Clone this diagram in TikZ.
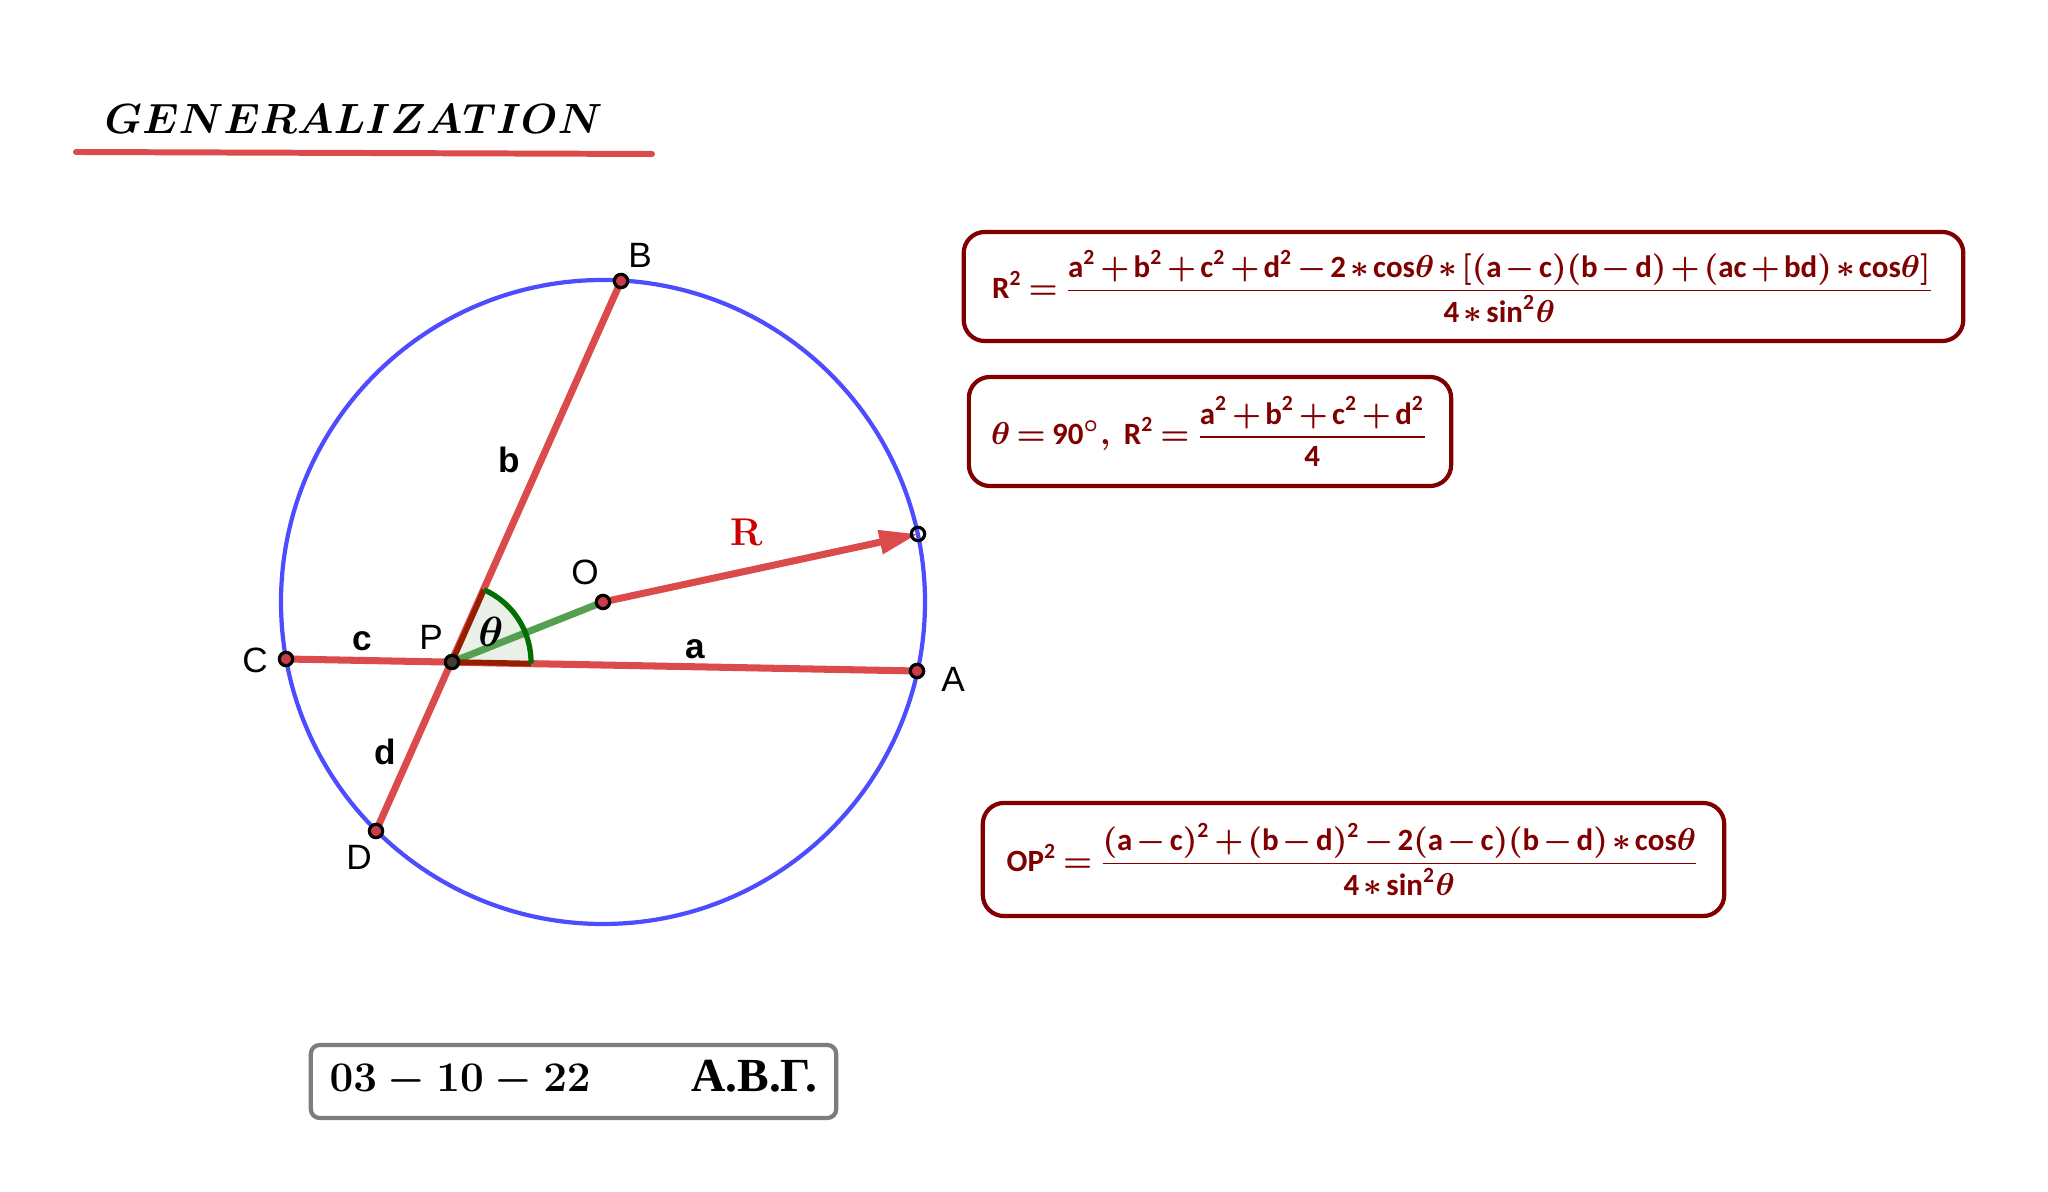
\documentclass[tikz,border=0pt]{standalone}
\usepackage{amsmath}
\usepackage{fontspec}
\setsansfont{Carlito}
\newfontfamily\labelfont{Liberation Sans}
\newfontfamily\greekfont{Liberation Serif}
\usepackage{tikz}
\usetikzlibrary{arrows.meta}

\definecolor{circblue}{RGB}{77,77,255}
\definecolor{segred}{RGB}{220,75,75}
\definecolor{opgreen}{RGB}{85,160,80}
\definecolor{arcgreen}{RGB}{0,110,0}
\definecolor{angedge}{RGB}{150,30,0}
\definecolor{angfill}{RGB}{232,240,232}
\definecolor{formred}{RGB}{128,0,0}
\definecolor{ptred}{RGB}{200,60,75}
\definecolor{rlabel}{RGB}{204,0,0}
\definecolor{footgray}{RGB}{125,125,125}

\newcommand{\sv}[1]{\mathsf{#1}}
\newcommand{\formspacing}{\medmuskip 2mu\relax\thickmuskip 3mu\relax}
\newcommand{\cmbold}{\fontencoding{OT1}\fontfamily{cmr}\fontseries{bx}\selectfont}

\begin{document}
\begin{tikzpicture}
    [
        x = 0.01cm, y = -0.01cm,
        seg/.style = {draw=segred, line width=2pt},
        pt/.style = {circle, draw=black, line width=0.9pt, fill=ptred, inner sep=0pt, minimum size=3.8pt},
        lbl/.style = {font=\labelfont\fontsize{10}{12}\selectfont, inner sep=0pt},
        seglbl/.style = {font=\labelfont\bfseries\fontsize{10}{12}\selectfont, inner sep=0pt},
        formula/.style = {rectangle, draw=formred, line width=1.2pt, rounded corners=6pt, text=formred,
            inner sep=0pt, font={\sffamily\fontsize{8.8}{10}\selectfont\boldmath\formspacing}},
        footbox/.style = {rectangle, draw=footgray, line width=1.2pt, rounded corners=2.5pt}
    ]
    \useasboundingbox (0,0) rectangle (2048,1192);

    % title
    \node [anchor=base west, inner sep=0pt, font=\fontsize{11.8}{14}\selectfont\boldmath] (title) at (104, 134) {$GENERALIZATION$};
    \coordinate (ul1) at (76, 152);
    \coordinate (ul2) at (652, 154);
    \draw [segred, line width=1.7pt, line cap=round] (ul1) -- (ul2);

    % points of the figure
    \coordinate (O) at (603, 602);
    \coordinate (P) at (452, 662);
    \coordinate (A) at (917, 671);
    \coordinate (B) at (621, 281);
    \coordinate (C) at (286, 659);
    \coordinate (D) at (376, 831);
    \coordinate (E) at (918, 534);

    \draw [circblue, line width=1.2pt] (O) circle [radius=322];

    \draw [seg] (C) -- (A);
    \draw [seg] (D) -- (B);

    % angle theta
    \fill [angfill] (P) -- ++(-66.08:79) arc [start angle=-66.08, end angle=1.11, radius=79] -- cycle;
    \draw [opgreen, line width=2pt] (P) -- (O);
    \draw [angedge, line width=1.6pt] (P) -- ++(-66.08:79);
    \draw [angedge, line width=1.6pt] (P) -- ++(1.11:79);
    \draw [arcgreen, line width=1.5pt] (P) ++(-66.08:79) arc [start angle=-66.08, end angle=1.11, radius=79];

    \draw [seg, -{Triangle[length=11pt, width=6.5pt]}] (O) -- (E);

    \node [pt] (pA) at (A) {};
    \node [pt] (pB) at (B) {};
    \node [pt] (pC) at (C) {};
    \node [pt] (pD) at (D) {};
    \node [pt] (pO) at (O) {};
    \node [pt, fill=black!70!olive] (pP) at (P) {};
    \node [pt, fill=none] (pE) at (E) {};

    \node [lbl] (lA) at (953, 679) {A};
    \node [lbl] (lB) at (640, 255) {B};
    \node [lbl] (lC) at (255, 660) {C};
    \node [lbl] (lD) at (359, 857) {D};
    \node [lbl] (lP) at (431, 637) {P};
    \node [lbl] (lO) at (585, 572) {O};

    \node [seglbl] (la) at (695, 649) {a};
    \node [seglbl] (lb) at (509, 460) {b};
    \node [seglbl] (lc) at (362, 641) {c};
    \node [seglbl] (ld) at (385, 752) {d};
    \node [inner sep=0pt, text=rlabel, font=\fontsize{11}{13}\selectfont\bfseries] (lR) at (747, 532) {R};
    \node [inner sep=0pt, font=\fontsize{12.5}{14}\selectfont\boldmath] (lth) at (491, 632) {$\theta$};

    % formulas
    \node [formula, minimum width=9.99cm, minimum height=1.09cm] (form1) at (1463.5, 286.5)
        {$\sv{R}^{\sv{2}}=\dfrac{\sv{a}^{\sv{2}}+\sv{b}^{\sv{2}}+\sv{c}^{\sv{2}}+\sv{d}^{\sv{2}}-\sv{2}*\sv{cos}\theta*[(\sv{a}-\sv{c})(\sv{b}-\sv{d})+(\sv{ac}+\sv{bd})*\sv{cos}\theta]}{\sv{4}*\sv{sin}^{\sv{2}}\theta}$};
    \node [formula, minimum width=4.82cm, minimum height=1.09cm] (form2) at (1210, 431.5)
        {$\theta=\sv{90}^{\circ},\ \sv{R}^{\sv{2}}=\dfrac{\sv{a}^{\sv{2}}+\sv{b}^{\sv{2}}+\sv{c}^{\sv{2}}+\sv{d}^{\sv{2}}}{\sv{4}}$};
    \node [formula, minimum width=7.41cm, minimum height=1.13cm] (form3) at (1353.5, 859.5)
        {$\sv{OP}^{\sv{2}}=\dfrac{(\sv{a}-\sv{c})^{\sv{2}}+(\sv{b}-\sv{d})^{\sv{2}}-\sv{2}(\sv{a}-\sv{c})(\sv{b}-\sv{d})*\sv{cos}\theta}{\sv{4}*\sv{sin}^{\sv{2}}\theta}$};

    % date box
    \node [footbox, minimum width=5.25cm, minimum height=0.73cm] (foot) at (573.5, 1081.5) {};
    \node [anchor=base west, inner sep=0pt, font=\fontsize{12.5}{15}\cmbold\boldmath] (date) at (329, 1092) {\mbox{03}${}-{}$\mbox{10}${}-{}$\mbox{22}};
    \node [anchor=base east, inner sep=0pt, font=\greekfont\bfseries\fontsize{13.5}{15}\selectfont] (initials) at (818, 1092) {Α.Β.Γ.};
\end{tikzpicture}
\end{document}
